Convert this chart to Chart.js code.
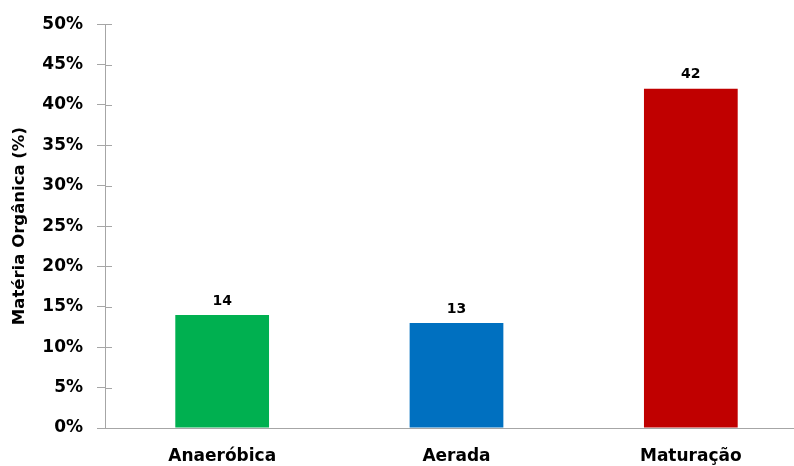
<!DOCTYPE html>
<html>
<head>
<meta charset="utf-8">
<script src="https://cdn.jsdelivr.net/npm/chart.js@4/dist/chart.umd.min.js"></script>
<style>
html,body{margin:0;padding:0;background:#fff;overflow:hidden;}
#wrap{width:794px;height:466px;overflow:hidden;position:relative;}
#box{width:808px;height:466px;}
</style>
</head>
<body>
<div id="wrap"><div id="box"><canvas id="c"></canvas></div></div>
<script>
const categories = ["Anaeróbica", "Aerada", "Maturação"];
const values = [14, 13, 42];
const barColors = ["#00B050", "#0070C0", "#C00000"];
const yTicks = [0, 5, 10, 15, 20, 25, 30, 35, 40, 45, 50];
const yTitle = "Matéria Orgânica (%)";

const FONT = "'DejaVu Sans', sans-serif";

const extras = {
  id: 'extras',
  afterDatasetsDraw(chart) {
    const ctx = chart.ctx;
    const meta = chart.getDatasetMeta(0);
    ctx.save();
    ctx.fillStyle = '#000';
    ctx.font = "bold 14px " + FONT;
    ctx.textAlign = 'center';
    ctx.textBaseline = 'bottom';
    meta.data.forEach((bar, i) => {
      ctx.fillText(String(values[i]), bar.x, bar.y - 7);
    });
    // inner half of cross tick marks
    const y = chart.scales.y;
    ctx.strokeStyle = '#a6a6a6';
    ctx.lineWidth = 1;
    yTicks.forEach(v => {
      const py = Math.round(y.getPixelForValue(v)) + 0.5;
      ctx.beginPath();
      ctx.moveTo(y.right, py);
      ctx.lineTo(y.right + 7, py);
      ctx.stroke();
    });
    ctx.restore();
  }
};

new Chart(document.getElementById('c'), {
  type: 'bar',
  data: {
    labels: categories,
    datasets: [{
      data: values,
      backgroundColor: barColors,
      borderWidth: 0,
      categoryPercentage: 1.0,
      barPercentage: 0.4
    }]
  },
  options: {
    responsive: true,
    maintainAspectRatio: false,
    animation: false,
    layout: { padding: { top: 23, left: 10, right: 0, bottom: 0 } },
    plugins: { legend: { display: false }, tooltip: { enabled: false } },
    scales: {
      x: {
        grid: { display: true, drawOnChartArea: false, drawTicks: false, color: 'rgba(0,0,0,0)' },
        border: { display: true, color: '#a6a6a6', width: 1 },
        ticks: { color: '#000', font: { family: FONT, size: 17, weight: 'bold' }, padding: 18 },
        afterFit(s) { s.height = 38; }
      },
      y: {
        min: 0, max: 50,
        afterBuildTicks(s) { s.ticks = yTicks.map(v => ({ value: v })); },
        grid: { display: true, drawOnChartArea: false, drawTicks: true, tickLength: 8, color: '#a6a6a6' },
        border: { display: true, color: '#a6a6a6', width: 1 },
        ticks: {
          color: '#000', padding: 14,
          font: { family: FONT, size: 17, weight: 'bold' },
          callback: v => v + '%'
        },
        title: {
          display: true, text: yTitle, color: '#000',
          font: { family: FONT, size: 16.5, weight: 'bold' }, padding: { top: 0, bottom: 0 }
        },
        afterFit(s) { s.width = 95; }
      }
    }
  },
  plugins: [extras]
});
</script>
</body>
</html>
